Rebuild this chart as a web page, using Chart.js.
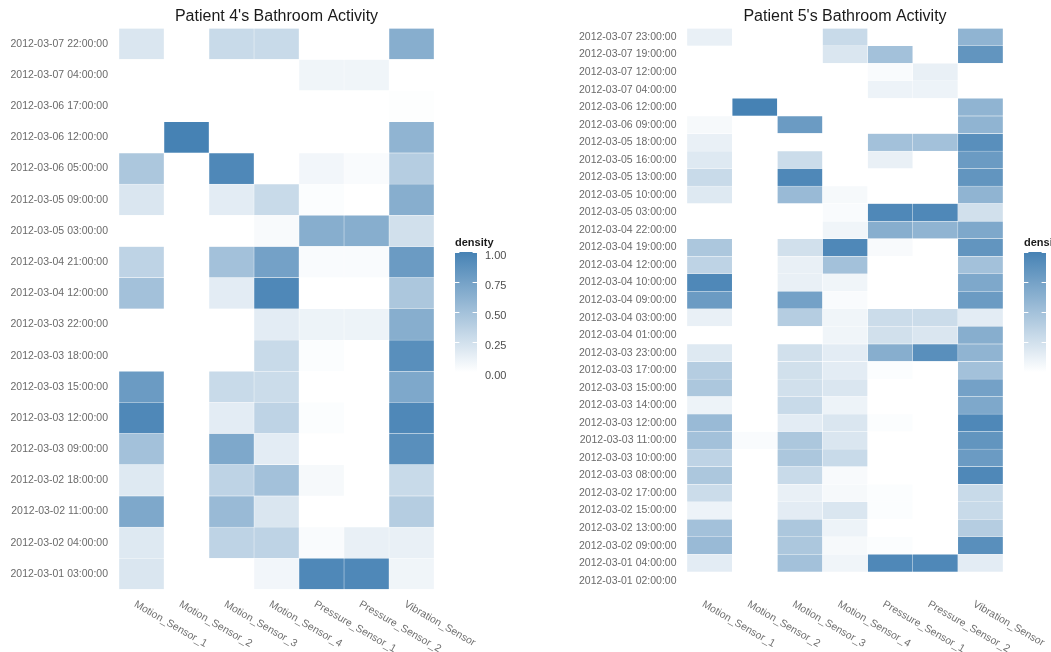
<!DOCTYPE html>
<html>
<head>
<meta charset="utf-8">
<script src="https://cdn.jsdelivr.net/npm/chart.js@4/dist/chart.umd.min.js"></script>
<style>
  html, body { margin: 0; padding: 0; background: #ffffff; }
  body { width: 1051px; height: 652px; position: relative; overflow: hidden; }
  canvas { position: absolute; top: 0; }
  #c4 { left: 0; }
  #c5 { left: 525px; }
</style>
</head>
<body>
<canvas id="c4" width="525" height="652"></canvas>
<canvas id="c5" width="526" height="652"></canvas>
<script>
// ---------- DATA ----------
const sensors = ['Motion_Sensor_1', 'Motion_Sensor_2', 'Motion_Sensor_3', 'Motion_Sensor_4',
                 'Pressure_Sensor_1', 'Pressure_Sensor_2', 'Vibration_Sensor'];

const legendTicks = [0, 0.25, 0.5, 0.75, 1];
const legendTickLabels = ['0.00', '0.25', '0.50', '0.75', '1.00'];

// Patient 4 (rows top -> bottom)
const p4Times = [
  '2012-03-07 22:00:00', '2012-03-07 04:00:00', '2012-03-06 17:00:00', '2012-03-06 12:00:00',
  '2012-03-06 05:00:00', '2012-03-05 09:00:00', '2012-03-05 03:00:00', '2012-03-04 21:00:00',
  '2012-03-04 12:00:00', '2012-03-03 22:00:00', '2012-03-03 18:00:00', '2012-03-03 15:00:00',
  '2012-03-03 12:00:00', '2012-03-03 09:00:00', '2012-03-02 18:00:00', '2012-03-02 11:00:00',
  '2012-03-02 04:00:00', '2012-03-01 03:00:00'
];
const p4Motion1   = [0.20, 0, 0, 0, 0.45, 0.20, 0, 0.35, 0.50, 0, 0, 0.80, 0.95, 0.50, 0.18, 0.70, 0.18, 0.20];
const p4Motion2   = [0, 0, 0, 1.00, 0, 0, 0, 0, 0, 0, 0, 0, 0, 0, 0, 0, 0, 0];
const p4Motion3   = [0.30, 0, 0, 0, 0.95, 0.15, 0, 0.50, 0.15, 0, 0, 0.30, 0.15, 0.70, 0.35, 0.55, 0.35, 0];
const p4Motion4   = [0.30, 0, 0, 0, 0, 0.30, 0.04, 0.75, 0.95, 0.15, 0.30, 0.28, 0.35, 0.15, 0.50, 0.20, 0.35, 0.07];
const p4Pressure1 = [0, 0.08, 0, 0, 0.07, 0.02, 0.65, 0.03, 0, 0.10, 0.02, 0, 0.02, 0, 0.05, 0, 0.03, 0.95];
const p4Pressure2 = [0, 0.08, 0, 0, 0.03, 0, 0.65, 0.03, 0, 0.10, 0, 0, 0, 0, 0, 0, 0.12, 0.95];
const p4Vibration = [0.65, 0, 0.01, 0.60, 0.40, 0.65, 0.25, 0.80, 0.45, 0.65, 0.90, 0.70, 0.95, 0.90, 0.30, 0.40, 0.12, 0.08];

// Patient 5 (rows top -> bottom)
const p5Times = [
  '2012-03-07 23:00:00', '2012-03-07 19:00:00', '2012-03-07 12:00:00', '2012-03-07 04:00:00',
  '2012-03-06 12:00:00', '2012-03-06 09:00:00', '2012-03-05 18:00:00', '2012-03-05 16:00:00',
  '2012-03-05 13:00:00', '2012-03-05 10:00:00', '2012-03-05 03:00:00', '2012-03-04 22:00:00',
  '2012-03-04 19:00:00', '2012-03-04 12:00:00', '2012-03-04 10:00:00', '2012-03-04 09:00:00',
  '2012-03-04 03:00:00', '2012-03-04 01:00:00', '2012-03-03 23:00:00', '2012-03-03 17:00:00',
  '2012-03-03 15:00:00', '2012-03-03 14:00:00', '2012-03-03 12:00:00', '2012-03-03 11:00:00',
  '2012-03-03 10:00:00', '2012-03-03 08:00:00', '2012-03-02 17:00:00', '2012-03-02 15:00:00',
  '2012-03-02 13:00:00', '2012-03-02 09:00:00', '2012-03-01 04:00:00', '2012-03-01 02:00:00'
];
const p5Motion1   = [0.12, 0, 0, 0, 0, 0.05, 0.12, 0.18, 0.30, 0.18, 0, 0, 0.45, 0.35, 0.95, 0.80,
                     0.12, 0, 0.18, 0.40, 0.45, 0.10, 0.55, 0.50, 0.35, 0.45, 0.28, 0.10, 0.50, 0.55, 0.15, 0];
const p5Motion2   = [0, 0, 0, 0, 1.00, 0, 0, 0, 0, 0, 0, 0, 0, 0, 0, 0,
                     0, 0, 0, 0, 0, 0, 0, 0.03, 0, 0, 0, 0, 0, 0, 0, 0];
const p5Motion3   = [0, 0, 0, 0, 0, 0.80, 0, 0.28, 0.95, 0.55, 0, 0, 0.25, 0.12, 0.12, 0.75,
                     0.40, 0, 0.25, 0.25, 0.25, 0.30, 0.15, 0.45, 0.45, 0.30, 0.12, 0.15, 0.45, 0.45, 0.50, 0];
const p5Motion4   = [0.30, 0.20, 0, 0, 0, 0, 0, 0, 0, 0.05, 0.03, 0.08, 0.95, 0.50, 0.08, 0.03,
                     0.08, 0.08, 0.15, 0.15, 0.20, 0.10, 0.20, 0.20, 0.30, 0.04, 0.05, 0.20, 0.10, 0.05, 0.08, 0];
const p5Pressure1 = [0, 0.50, 0.03, 0.10, 0, 0, 0.50, 0.12, 0, 0, 0.95, 0.65, 0.04, 0, 0, 0,
                     0.28, 0.25, 0.65, 0.02, 0, 0, 0.02, 0, 0, 0, 0.02, 0.02, 0, 0.02, 0.95, 0];
const p5Pressure2 = [0, 0, 0.12, 0.10, 0, 0, 0.50, 0, 0, 0, 0.95, 0.60, 0, 0, 0, 0,
                     0.28, 0.20, 0.90, 0, 0, 0, 0, 0, 0, 0, 0, 0, 0, 0, 0.95, 0];
const p5Vibration = [0.60, 0.85, 0, 0, 0.60, 0.60, 0.90, 0.80, 0.85, 0.60, 0.25, 0.70, 0.85, 0.50, 0.70, 0.80,
                     0.15, 0.65, 0.60, 0.50, 0.75, 0.70, 0.95, 0.85, 0.80, 0.95, 0.30, 0.30, 0.40, 0.90, 0.15, 0];

// ---------- RENDERING ----------
const FONT = '"Liberation Sans", Arial, Helvetica, sans-serif';
const LOW = [255, 255, 255];
const HIGH = [70, 130, 180]; // steelblue

function colorFor(v) {
  const c = LOW.map((l, i) => Math.round(l + (HIGH[i] - l) * v));
  return `rgb(${c[0]},${c[1]},${c[2]})`;
}

const extrasPlugin = {
  id: 'extras',
  afterDraw(chart) {
    const ctx = chart.ctx;
    const area = chart.chartArea;
    const xs = chart.scales.x;
    ctx.save();
    // rotated x labels
    ctx.font = '10.5px ' + FONT;
    ctx.fillStyle = '#707070';
    sensors.forEach((s, i) => {
      const cx = xs.getPixelForValue(i + 0.5);
      ctx.save();
      ctx.translate(cx - 4, area.bottom + 9.5);
      ctx.rotate(Math.PI / 6);
      ctx.textAlign = 'left';
      ctx.textBaseline = 'top';
      ctx.fillText(s, 0, 0);
      ctx.restore();
    });
    // colour bar legend
    const bx = area.right + 21, bw = 22, top = 252, bottom = 372;
    const grad = ctx.createLinearGradient(0, top, 0, bottom);
    for (let k = 0; k <= 10; k++) {
      grad.addColorStop(k / 10, colorFor(1 - k / 10));
    }
    ctx.fillStyle = grad;
    ctx.fillRect(bx, top, bw, bottom - top);
    ctx.strokeStyle = '#ffffff';
    ctx.lineWidth = 1;
    legendTicks.forEach((v, i) => {
      const y = Math.round(bottom - v * (bottom - top)) + 0.5;
      ctx.beginPath();
      ctx.moveTo(bx, y); ctx.lineTo(bx + 4.4, y);
      ctx.moveTo(bx + bw - 4.4, y); ctx.lineTo(bx + bw, y);
      ctx.stroke();
      ctx.fillStyle = '#4d4d4d';
      ctx.font = '11px ' + FONT;
      ctx.textAlign = 'left';
      ctx.textBaseline = 'middle';
      ctx.fillText(legendTickLabels[i], bx + bw + 8, y + 3);
    });
    ctx.fillStyle = '#1a1a1a';
    ctx.font = 'bold 11px ' + FONT;
    ctx.textAlign = 'left';
    ctx.textBaseline = 'middle';
    ctx.fillText('density', bx, 243);
    ctx.restore();
  }
};

function makeChart(id, title, times, columns, yWidth, tickPad, rightPad) {
  const datasets = columns.map((col, c) => ({
    data: times.map(() => [c, c + 1]),
    backgroundColor: col.map(colorFor),
    borderColor: 'rgba(255,255,255,0.6)',
    borderWidth: 0.5,
    borderSkipped: false,
    barPercentage: 1,
    categoryPercentage: 1,
    grouped: false
  }));
  return new Chart(document.getElementById(id), {
    type: 'bar',
    data: { labels: times, datasets },
    options: {
      indexAxis: 'y',
      responsive: false,
      animation: false,
      devicePixelRatio: 1,
      layout: { padding: { left: 0, right: rightPad, top: 0, bottom: 62.5 } },
      plugins: {
        legend: { display: false },
        tooltip: { enabled: false },
        title: {
          display: true,
          text: title,
          fullSize: false,
          color: '#1a1a1a',
          font: { family: FONT, size: 16, weight: 'normal' },
          padding: { top: 7, bottom: 2.1 }
        }
      },
      scales: {
        x: { type: 'linear', min: 0, max: sensors.length, display: false },
        y: {
          type: 'category',
          grid: { display: false, drawTicks: false },
          border: { display: false },
          ticks: { color: '#6a6a6a', font: { family: FONT, size: 10.5 }, padding: tickPad, autoSkip: false },
          afterFit(scale) { scale.width = yWidth; }
        }
      }
    },
    plugins: [extrasPlugin]
  });
}

makeChart('c4', "Patient 4's Bathroom Activity", p4Times,
  [p4Motion1, p4Motion2, p4Motion3, p4Motion4, p4Pressure1, p4Pressure2, p4Vibration], 119, 11, 91);
makeChart('c5', "Patient 5's Bathroom Activity", p5Times,
  [p5Motion1, p5Motion2, p5Motion3, p5Motion4, p5Pressure1, p5Pressure2, p5Vibration], 162, 10.5, 48);
</script>
</body>
</html>
